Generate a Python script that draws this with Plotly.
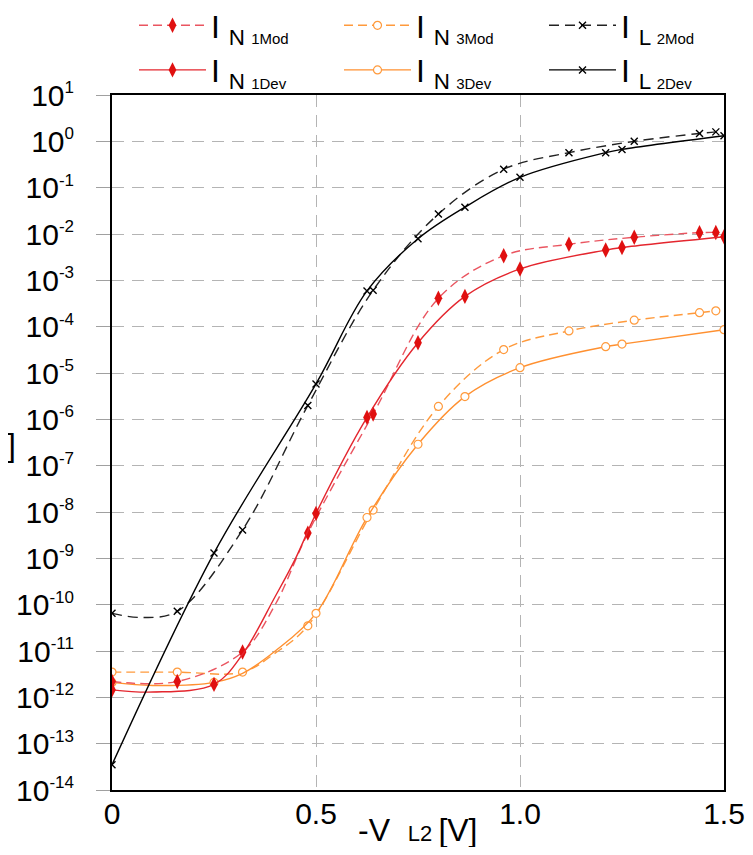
import plotly.graph_objects as go

# ---------------- data ----------------
# marker positions, bias -V_L2 [V]
V_MOD = [0.0, 0.16, 0.32, 0.48, 0.64, 0.80, 0.96, 1.12, 1.28, 1.44, 1.48]
V_DEV = [0.0, 0.25, 0.50, 0.625, 0.75, 0.865, 1.00, 1.21, 1.25, 1.50]

# currents [A] at the marker positions
IN1_MOD = [2.2e-12, 2.2e-12, 9.5e-12, 3.5e-9, 1.3e-6, 4.1e-4, 3.4e-3, 6.0e-3, 8.5e-3, 1.07e-2, 1.08e-2]
IN3_MOD = [3.5e-12, 3.5e-12, 3.5e-12, 3.5e-11, 1.1e-8, 1.9e-6, 3.2e-5, 8.1e-5, 1.38e-4, 2.0e-4, 2.2e-4]
IL2_MOD = [6.5e-11, 7.2e-11, 4.1e-9, 2.0e-6, 6.1e-4, 2.7e-2, 0.25, 0.57, 1.0, 1.48, 1.6]

IN1_DEV = [1.45e-12, 1.9e-12, 9.3e-9, 1.1e-6, 4.5e-5, 4.5e-4, 1.76e-3, 4.5e-3, 5.1e-3, 8.7e-3]
IN3_DEV = [2.1e-12, 2.1e-12, 6.5e-11, 7.6e-9, 2.9e-7, 3.1e-6, 1.3e-5, 3.7e-5, 4.2e-5, 8.6e-5]
IL2_DEV = [3.5e-14, 1.3e-9, 5.8e-6, 5.9e-4, 7.9e-3, 3.8e-2, 0.167, 0.57, 0.67, 1.32]

# extra points on the smooth curves (no marker drawn there)
IN1_MOD_CURVE_V = [0.40]
IN1_MOD_CURVE_I = [1.0e-10]
IN3_MOD_CURVE_V = [0.40]
IN3_MOD_CURVE_I = [9.0e-12]
IL2_MOD_CURVE_V = [0.07]
IL2_MOD_CURVE_I = [5.3e-11]
IN1_DEV_CURVE_V = [0.10, 0.32, 0.40, 0.45]
IN1_DEV_CURVE_I = [1.3e-12, 8.5e-12, 1.5e-10, 1.0e-9]
IN3_DEV_CURVE_V = [0.10, 0.32, 0.40]
IN3_DEV_CURVE_I = [1.8e-12, 3.3e-12, 1.0e-11]
IL2_DEV_CURVE_V = []
IL2_DEV_CURVE_I = []

# axis ticks
X_TICK_VALS = [0, 0.5, 1.0, 1.5]
X_TICK_TEXT = ["0", "0.5", "1.0", "1.5"]
Y_TICK_EXP = [-14, -13, -12, -11, -10, -9, -8, -7, -6, -5, -4, -3, -2, -1, 0, 1]

# legend labels
NAMES = {
    "n1mod": "I <sub>N <span style='font-size:15px'>1Mod</span></sub>",
    "n3mod": "I <sub>N <span style='font-size:15px'>3Mod</span></sub>",
    "l2mod": "I <sub>L <span style='font-size:15px'>2Mod</span></sub>",
    "n1dev": "I <sub>N <span style='font-size:15px'>1Dev</span></sub>",
    "n3dev": "I <sub>N <span style='font-size:15px'>3Dev</span></sub>",
    "l2dev": "I <sub>L <span style='font-size:15px'>2Dev</span></sub>",
}
X_TITLE = "-V\u00a0 <span style='font-size:22px'>L2 </span>[V]"

# ---------------- styles ----------------
RED = "#e01010"
RED_LINE_DASH = "#ea5560"
RED_LINE = "#e4262e"
ORANGE = "#ff9a3c"
ORANGE_LINE = "#ff9030"
BLACK = "#000000"
DASH_BLACK = "10px,6px"
DASH_COLOR = "9px,5px"

FONT = "Liberation Sans, Arial, sans-serif"

# the page body has an 8px margin: the figure is laid out 8px in from the window edge
FIG_W, FIG_H = 737, 839
M_L, M_R, M_T, M_B = 104, 21, 87, 57
PLOT_W = FIG_W - M_L - M_R
PLOT_H = FIG_H - M_T - M_B

LEG_LEFT = 126          # px from figure left
LEG_ITEMWIDTH = 67
LEG_SPACING = 205       # px between legend columns
LEG_ENTRYWIDTH = LEG_SPACING - LEG_ITEMWIDTH - 15


def merged(vm, im, vc, ic):
    pts = sorted(zip(list(vm) + list(vc), list(im) + list(ic)))
    return [p[0] for p in pts], [p[1] for p in pts]


series = [
    # key, marker x, marker y, curve x, curve y, line color, dash, marker dict
    ("n3mod", V_MOD, IN3_MOD, IN3_MOD_CURVE_V, IN3_MOD_CURVE_I, ORANGE, DASH_COLOR,
     dict(symbol="circle", size=8, color="white", line=dict(color=ORANGE, width=1.2))),
    ("n3dev", V_DEV, IN3_DEV, IN3_DEV_CURVE_V, IN3_DEV_CURVE_I, ORANGE_LINE, "solid",
     dict(symbol="circle", size=8, color="white", line=dict(color=ORANGE, width=1.2))),
    ("n1mod", V_MOD, IN1_MOD, IN1_MOD_CURVE_V, IN1_MOD_CURVE_I, RED_LINE_DASH, DASH_COLOR,
     dict(symbol="diamond-tall", size=11, color=RED, line=dict(color=RED, width=0))),
    ("n1dev", V_DEV, IN1_DEV, IN1_DEV_CURVE_V, IN1_DEV_CURVE_I, RED_LINE, "solid",
     dict(symbol="diamond-tall", size=11, color=RED, line=dict(color=RED, width=0))),
    ("l2mod", V_MOD, IL2_MOD, IL2_MOD_CURVE_V, IL2_MOD_CURVE_I, "#222222", DASH_BLACK,
     dict(symbol="x-thin", size=7, color=BLACK, line=dict(color=BLACK, width=1.4))),
    ("l2dev", V_DEV, IL2_DEV, IL2_DEV_CURVE_V, IL2_DEV_CURVE_I, BLACK, "solid",
     dict(symbol="x-thin", size=7, color=BLACK, line=dict(color=BLACK, width=1.4))),
]

LEGEND_ORDER = ["n1mod", "n3mod", "l2mod", "n1dev", "n3dev", "l2dev"]

fig = go.Figure()

for key, vm, im, vc, ic, lcol, dash, mk in series:
    lx, ly = merged(vm, im, vc, ic)
    fig.add_trace(go.Scatter(
        x=lx, y=ly, mode="lines",
        line=dict(color=lcol, width=1.4, dash=dash, shape="spline", smoothing=1.0),
        showlegend=False, hoverinfo="skip", legendgroup=key,
    ))
    fig.add_trace(go.Scatter(
        x=vm, y=im, mode="markers", marker=mk,
        showlegend=False, legendgroup=key, name=NAMES[key],
    ))

# legend entries
for rank, key in enumerate(LEGEND_ORDER):
    s = [t for t in series if t[0] == key][0]
    fig.add_trace(go.Scatter(
        x=[None], y=[None], mode="lines+markers", name=NAMES[key],
        line=dict(color=s[5], width=1.4, dash=s[6]), marker=s[7],
        legendgroup=key, legendrank=rank + 1, showlegend=True,
    ))

grid_color = "#b4b4b4"

fig.update_xaxes(
    type="linear", range=[0, 1.5],
    tickvals=X_TICK_VALS, ticktext=X_TICK_TEXT,
    tickfont=dict(size=30, family=FONT, color="black"),
    ticks="", ticklabelstandoff=-4,
    showgrid=True, gridcolor=grid_color, gridwidth=1.4, griddash="12px,8px",
    showline=True, linecolor="black", linewidth=2, mirror=True,
    zeroline=False,
)
fig.update_yaxes(
    type="log", range=[-14, 1],
    tickvals=[10.0 ** e for e in Y_TICK_EXP],
    ticktext=["10<sup><span style='font-size:17px'>%d</span></sup>" % e for e in Y_TICK_EXP],
    tickfont=dict(size=30, family=FONT, color="black"),
    ticks="outside", ticklen=14, tickcolor="#a0a0a0", tickwidth=1.4,
    ticklabelstandoff=16,
    showgrid=True, gridcolor=grid_color, gridwidth=1.4, griddash="12px,8px",
    showline=True, linecolor="black", linewidth=2, mirror=True,
    zeroline=False,
)

fig.update_layout(
    width=FIG_W, height=FIG_H,
    margin=dict(l=M_L, r=M_R, t=M_T, b=M_B, autoexpand=False),
    plot_bgcolor="white", paper_bgcolor="white",
    font=dict(family=FONT, color="black"),
    showlegend=True,
    legend=dict(
        orientation="h", xref="paper", yref="paper",
        x=(LEG_LEFT - M_L) / PLOT_W, y=1 + (M_T + 10) / PLOT_H,
        xanchor="left", yanchor="top",
        entrywidth=LEG_ENTRYWIDTH, entrywidthmode="pixels", itemwidth=LEG_ITEMWIDTH,
        font=dict(size=32, family=FONT, color="black"),
        bgcolor="rgba(0,0,0,0)", tracegroupgap=0,
        traceorder="normal",
    ),
    annotations=[
        dict(text=X_TITLE, xref="paper", yref="paper",
             x=0.5, y=0, xanchor="center", yanchor="top", yshift=-20,
             showarrow=False, font=dict(size=32, family=FONT, color="black")),
        dict(text="]", xref="paper", yref="paper",
             x=-(M_L + 3) / PLOT_W, y=(PLOT_H + M_T - 437) / PLOT_H, xanchor="left", yanchor="middle",
             showarrow=False, font=dict(size=32, family=FONT, color="black")),
    ],
)

fig.write_html("out.html")
